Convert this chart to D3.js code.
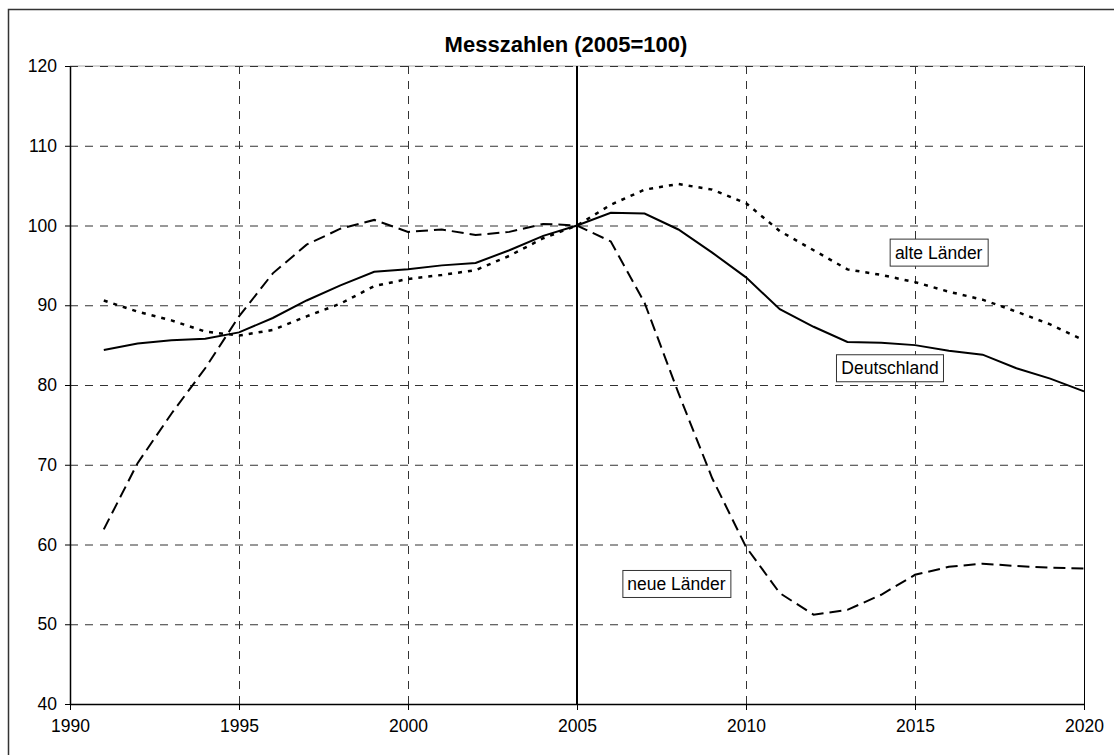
<!DOCTYPE html>
<html>
<head>
<meta charset="utf-8">
<script src="https://cdn.jsdelivr.net/npm/d3@7"></script>
<style>
  body { margin: 0; background: #fff; }
  text { font-family: "Liberation Sans", Arial, sans-serif; fill: #000; }
</style>
</head>
<body>
<svg width="1114" height="755"></svg>
<script>
let years = d3.range(1991, 2021);

let deutschland = [84.4, 85.2, 85.6, 85.8, 86.6, 88.4, 90.6, 92.5, 94.2, 94.5,
  95.0, 95.3, 96.9, 98.7, 100, 101.6, 101.5, 99.5, 96.6, 93.5,
  89.5, 87.3, 85.4, 85.3, 85.0, 84.3, 83.8, 82.1, 80.8, 79.2];

let alteLaender = [90.6, 89.2, 88.1, 86.7, 86.2, 86.9, 88.6, 90.2, 92.4, 93.3,
  93.8, 94.4, 96.2, 98.4, 100, 102.6, 104.5, 105.2, 104.5, 102.8,
  99.3, 96.9, 94.5, 93.8, 92.9, 91.7, 90.7, 89.2, 87.6, 85.6];

let neueLaender = [61.9, 70.2, 76.4, 82.1, 88.6, 94.0, 97.6, 99.6, 100.7, 99.2,
  99.5, 98.8, 99.2, 100.2, 100, 98.0, 90.3, 79.0, 68.3, 59.7,
  53.9, 51.2, 51.8, 53.7, 56.2, 57.2, 57.6, 57.3, 57.1, 57.0];

let xTicks = [1990, 1995, 2000, 2005, 2010, 2015, 2020];
let yTicks = [40, 50, 60, 70, 80, 90, 100, 110, 120];

let series = [
  {name: "Deutschland", values: deutschland, dash: null, width: 2},
  {name: "alte Länder", values: alteLaender, dash: "4,6", width: 2.5},
  {name: "neue Länder", values: neueLaender, dash: "12,6", width: 2}
];

// label boxes, anchored in data units
let labels = [
  {text: "alte Länder", year: 2015.7, value: 96.6},
  {text: "Deutschland", year: 2014.26, value: 82.1},
  {text: "neue Länder", year: 2007.94, value: 55.05}
];

let svg = d3.select("svg");
let margin = {left: 70, top: 66, right: 1084, bottom: 704};

let x = d3.scaleLinear().domain([1990, 2020]).range([margin.left, margin.right]);
let y = d3.scaleLinear().domain([40, 120]).range([margin.bottom, margin.top]);

// outer frame
svg.append("rect")
  .attr("x", 8.5).attr("y", 9.5)
  .attr("width", 1120).attr("height", 760)
  .attr("fill", "none").attr("stroke", "#333").attr("stroke-width", 1.5);

svg.append("text")
  .attr("x", 566).attr("y", 52)
  .attr("text-anchor", "middle")
  .style("font-size", "22px").style("font-weight", "bold")
  .text("Messzahlen (2005=100)");

// top edge of plot
svg.append("line")
  .attr("x1", margin.left).attr("x2", margin.right)
  .attr("y1", margin.top).attr("y2", margin.top)
  .attr("stroke", "#aaa");

// grid
svg.append("g").selectAll("line")
  .data(yTicks.filter(d => d > 40))
  .join("line")
    .attr("x1", margin.left).attr("x2", margin.right)
    .attr("y1", d => y(d) + 0.5).attr("y2", d => y(d) + 0.5)
    .attr("stroke", "#333").attr("stroke-dasharray", "8,7");

svg.append("g").selectAll("line")
  .data(xTicks.filter(d => d > 1990 && d < 2020))
  .join("line")
    .attr("x1", d => x(d) + 0.5).attr("x2", d => x(d) + 0.5)
    .attr("y1", margin.top).attr("y2", margin.bottom)
    .attr("stroke", "#333").attr("stroke-dasharray", "8,7");

// reference line at 2005
svg.append("line")
  .attr("x1", x(2005)).attr("x2", x(2005))
  .attr("y1", margin.top).attr("y2", margin.bottom)
  .attr("stroke", "#000").attr("stroke-width", 2);

// right edge
svg.append("line")
  .attr("x1", margin.right + 0.5).attr("x2", margin.right + 0.5)
  .attr("y1", margin.top).attr("y2", margin.bottom)
  .attr("stroke", "#000");

// axes
let xAxis = svg.append("g")
  .attr("transform", `translate(0,${margin.bottom})`)
  .call(d3.axisBottom(x).tickValues(xTicks).tickFormat(d3.format("d")).tickSizeInner(6).tickSizeOuter(0).tickPadding(10));
let yAxis = svg.append("g")
  .attr("transform", `translate(${margin.left},0)`)
  .call(d3.axisLeft(y).tickValues(yTicks).tickSizeInner(5).tickSizeOuter(0).tickPadding(8));

[xAxis, yAxis].forEach(a => {
  a.select(".domain").attr("stroke", "#000").attr("stroke-width", 1.5);
  a.selectAll(".tick line").attr("stroke", "#000");
  a.selectAll("text").style("font-size", "17.5px").attr("fill", "#000")
    .style("font-family", "'Liberation Sans', Arial, sans-serif");
});

// lines
let line = d3.line()
  .x((d, i) => x(years[i]))
  .y(d => y(d));

svg.append("g").selectAll("path")
  .data(series)
  .join("path")
    .attr("d", s => line(s.values))
    .attr("fill", "none")
    .attr("stroke", "#000")
    .attr("stroke-width", s => s.width)
    .attr("stroke-dasharray", s => s.dash);

// label boxes
let lg = svg.append("g").selectAll("g")
  .data(labels)
  .join("g")
    .attr("transform", d => `translate(${x(d.year)},${y(d.value)})`);

lg.append("text")
  .attr("text-anchor", "middle")
  .attr("dy", "0.35em")
  .style("font-size", "17.5px")
  .text(d => d.text);

lg.each(function() {
  let g = d3.select(this);
  let b = g.select("text").node().getBBox();
  g.insert("rect", "text")
    .attr("x", Math.round(b.x - 5) + 0.5)
    .attr("y", -13.5)
    .attr("width", Math.round(b.width + 10))
    .attr("height", 27)
    .attr("fill", "#fff")
    .attr("stroke", "#333");
});
</script>
</body>
</html>
